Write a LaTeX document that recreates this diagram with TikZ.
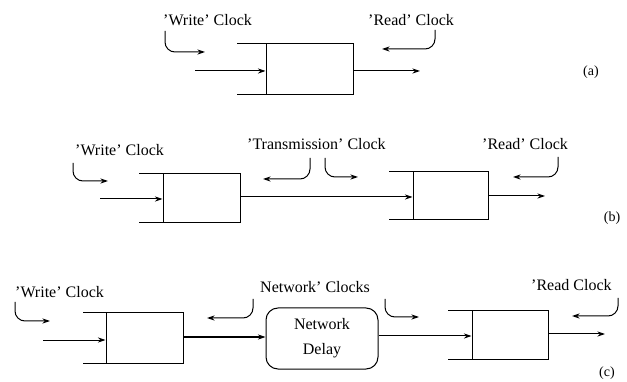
\documentclass[tikz,border=0pt]{standalone}
\usepackage{fontspec}
\setmainfont{Liberation Serif}
\usetikzlibrary{arrows.meta}
\tikzset{
  ln/.style={line width=1pt,line cap=butt},
  arr/.style={ln,-{Stealth[length=7.5pt,width=5pt]}},
  hook/.style={arr,rounded corners=10pt},
  lbl/.style={font=\fontsize{16}{18}\selectfont,inner sep=0pt,anchor=west},
  tag/.style={font=\fontsize{14}{16}\selectfont,inner sep=0pt},
  reg/.style={draw,ln,inner sep=0pt},
}
\begin{document}
\begin{tikzpicture}[x=1pt,y=-1pt]
\useasboundingbox (0,0) rectangle (627,382);
% ---------------- (a)
\node[lbl] (wA) at (163,20) {'Write' Clock};
\node[lbl] (rA) at (368,20) {'Read' Clock};
\node[reg,minimum width=87pt,minimum height=51pt] (A) at (309.5,69.5) {};
\coordinate (At) at (237,44);
\coordinate (Ab) at (237,95);
\draw[ln] (At) -- (At -| A.west);
\draw[ln] (Ab) -- (Ab -| A.west);
\coordinate (Ain) at (195,71);
\coordinate (Aout) at (420,71);
\draw[arr] (Ain) -- (Ain -| A.west);
\draw[arr] (Aout -| A.east) -- (Aout);
\coordinate (wA1) at (165,31); \coordinate (wA2) at (205,52);
\draw[hook] (wA1) |- (wA2);
\coordinate (rA1) at (435,30); \coordinate (rA2) at (382,49);
\draw[hook] (rA1) |- (rA2);
\node[tag] (la) at (591,72) {(a)};
% ---------------- (b)
\node[lbl] (wB) at (75,150) {'Write' Clock};
\node[lbl] (tB) at (247,144) {'Transmission' Clock};
\node[lbl] (rB) at (482,144) {'Read' Clock};
\node[reg,minimum width=77pt,minimum height=49pt] (B1) at (201.5,198.5) {};
\coordinate (B1t) at (139,174);
\coordinate (B1b) at (139,223);
\draw[ln] (B1t) -- (B1t -| B1.west);
\draw[ln] (B1b) -- (B1b -| B1.west);
\coordinate (B1in) at (100,199);
\draw[arr] (B1in) -- (B1in -| B1.west);
\node[reg,minimum width=75pt,minimum height=48pt] (B2) at (450.5,196) {};
\coordinate (B2t) at (389,172);
\coordinate (B2b) at (389,220);
\draw[ln] (B2t) -- (B2t -| B2.west);
\draw[ln] (B2b) -- (B2b -| B2.west);
\coordinate (Blink) at (240,197);
\draw[arr] (Blink -| B1.east) -- (Blink -| B2.west);
\coordinate (B2out) at (545,196);
\draw[arr] (B2out -| B2.east) -- (B2out);
\coordinate (wB1) at (73,163); \coordinate (wB2) at (108,181);
\draw[hook] (wB1) |- (wB2);
\coordinate (tB1) at (310,158); \coordinate (tB2) at (263,179);
\draw[hook] (tB1) |- (tB2);
\coordinate (tB3) at (325,158); \coordinate (tB4) at (358,177);
\draw[hook] (tB3) |- (tB4);
\coordinate (rB1) at (558,157); \coordinate (rB2) at (513,177);
\draw[hook] (rB1) |- (rB2);
\node[tag] (lb) at (612,218) {(b)};
% ---------------- (c)
\node[lbl] (wC) at (15,292) {'Write' Clock};
\node[lbl] (nC) at (260,287) {Network' Clocks};
\node[lbl] (rC) at (531,285) {'Read Clock};
\node[reg,minimum width=77pt,minimum height=50pt] (C1) at (144.5,338) {};
\coordinate (C1t) at (83,313);
\coordinate (C1b) at (83,363);
\draw[ln] (C1t) -- (C1t -| C1.west);
\draw[ln] (C1b) -- (C1b -| C1.west);
\coordinate (C1in) at (43,340);
\draw[arr] (C1in) -- (C1in -| C1.west);
\node[reg,rounded corners=12pt,minimum width=112pt,minimum height=61pt,align=center,
      font=\fontsize{16}{18}\selectfont] (ND) at (322,338.5) {Network\\[7pt]Delay};
\coordinate (C1o) at (183,337);
\draw[arr] (C1o -| C1.east) -- (C1o -| ND.west);
\node[reg,minimum width=76pt,minimum height=48pt] (C2) at (510,335) {};
\coordinate (C2t) at (448,311);
\coordinate (C2b) at (448,359);
\draw[ln] (C2t) -- (C2t -| C2.west);
\draw[ln] (C2b) -- (C2b -| C2.west);
\coordinate (NDo) at (378,336);
\draw[arr] (NDo -| ND.east) -- (NDo -| C2.west);
\coordinate (C2out) at (605,334);
\draw[arr] (C2out -| C2.east) -- (C2out);
\coordinate (wC1) at (15,302); \coordinate (wC2) at (50,321);
\draw[hook] (wC1) |- (wC2);
\coordinate (nC1) at (253,299); \coordinate (nC2) at (207,318);
\draw[hook] (nC1) |- (nC2);
\coordinate (nC3) at (385,299); \coordinate (nC4) at (419,317);
\draw[hook] (nC3) |- (nC4);
\coordinate (rC1) at (618,298); \coordinate (rC2) at (572,316);
\draw[hook] (rC1) |- (rC2);
\node[tag] (lc) at (607,373) {(c)};
\end{tikzpicture}
\end{document}
